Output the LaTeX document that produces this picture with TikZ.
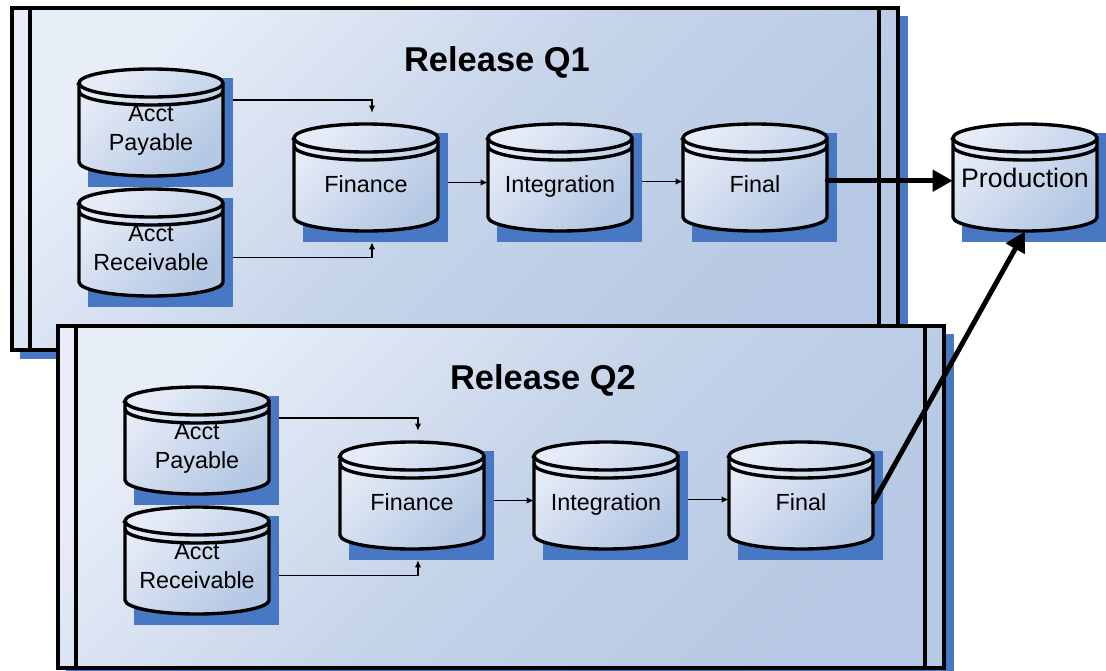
\documentclass[tikz,border=0pt]{standalone}
\usepackage{fontspec}
\setmainfont{Liberation Sans}
\usetikzlibrary{arrows.meta}

\definecolor{framelight}{RGB}{232,238,248}
\definecolor{framemid}{RGB}{198,212,233}
\definecolor{framedark}{RGB}{182,200,227}
\definecolor{shadowblue}{RGB}{72,119,196}
\definecolor{cyllight}{RGB}{230,236,247}
\definecolor{cyldark}{RGB}{180,199,227}

\pgfdeclarelayer{frames}
\pgfdeclarelayer{links}
\pgfsetlayers{frames,links,main}

\tikzset{
  releasebox/.style={draw=black, line width=2.2pt, top color=framelight, bottom color=framedark, middle color=framemid, shading angle=45},
  frameline/.style={line width=2.2pt},
  cylbody/.style={draw=black, line width=2.4pt, top color=cyllight, bottom color=cyldark, shading angle=45},
  cylrim/.style={line width=2.4pt},
  cylnode/.style={minimum width=3.6cm, minimum height=2.675cm, inner sep=0pt},
  cyltext/.style={align=center, yshift=-0.24cm, font=\fontsize{16.6}{20.2}\selectfont,
    execute at begin node=\strut, execute at end node=\strut},
  prodtext/.style={font=\fontsize{19}{22}\selectfont},
  reltitle/.style={font=\bfseries\fontsize{24.5}{28}\selectfont},
  link/.style={->, line width=0.8pt},
  prodarrow/.style={line width=3.5pt, line cap=round, -{Triangle[length=0.5cm,width=0.52cm]}}
}

% database drawn as a cylinder: [text style]{name}{x}{top y}{text}
\newcommand{\dbcyl}[5][cyltext]{%
  \fill[shadowblue] (#3-63,#4+9) rectangle (#3+82,#4+118);
  \draw[cylbody] (#3-72,#4+14) -- (#3-72,#4+93) arc (180:360:1.8cm and 0.35cm)
     -- (#3+72,#4+14) arc (0:180:1.8cm and 0.35cm) -- cycle;
  \draw[cylrim] (#3-72,#4+14) arc (180:360:1.8cm and 0.35cm);
  \draw[cylrim] (#3-72,#4+22) arc (180:360:1.8cm and 0.35cm);
  \node[cylnode] (#2) at (#3,#4+53.5) {};
  \node[#1] (#2-t) at (#2) {#5};
}

\begin{document}
\begin{tikzpicture}[x=0.025cm, y=-0.025cm, >={Latex[length=5pt,width=4.5pt]}]
\useasboundingbox (0,0) rectangle (1106,671);

\foreach \q/\dx/\dy in {1/0/0, 2/46/318}{
\begin{scope}[shift={(\dx,\dy)}]

  \begin{pgfonlayer}{frames}
  \fill[shadowblue] (20,16) rectangle (908,359);
  \draw[releasebox] (12,8) rectangle (898,350);
  \draw[frameline] (30,8) -- (30,350) (879,8) -- (879,350);
  \node[reltitle, anchor=base] (rel\q) at (497,71) {Release Q\q};
  \end{pgfonlayer}

  \dbcyl{pay\q}{151}{69}{Acct\\Payable}
  \dbcyl{rec\q}{151}{189}{Acct\\Receivable}
  \dbcyl{fin\q}{366}{124}{Finance}
  \dbcyl{int\q}{560}{124}{Integration}
  \dbcyl{final\q}{755}{124}{Final}

  \begin{pgfonlayer}{links}
  \draw[link] ([yshift=0.5625cm]pay\q.east) -| ([xshift=0.15cm,yshift=0.275cm]fin\q.north);
  \draw[link] ([yshift=-0.375cm]rec\q.east) -| ([xshift=0.15cm,yshift=-0.275cm]fin\q.south);
  \draw[link] ([yshift=-0.125cm]fin\q.east) -- ([yshift=-0.125cm]int\q.west);
  \draw[link] ([yshift=-0.1cm]int\q.east) -- ([yshift=-0.1cm]final\q.west);
  \end{pgfonlayer}

\end{scope}
}

\dbcyl[prodtext]{prod}{1025}{124}{Production}

\draw[prodarrow] ([yshift=-0.08cm]final1.east) -- ([yshift=-0.08cm]prod.west);
\draw[prodarrow] ([yshift=-0.18cm]final2.east) -- (prod.south);

\end{tikzpicture}
\end{document}
